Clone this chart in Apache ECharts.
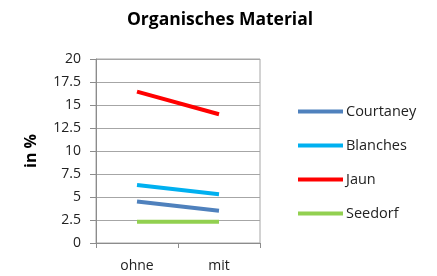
<!DOCTYPE html>
<html><head><meta charset="utf-8">
<script src="https://cdn.jsdelivr.net/npm/echarts@6/dist/echarts.min.js"></script>
<style>html,body{margin:0;padding:0;background:#fff}#c{width:437px;height:276px}</style>
</head><body><div id="c"></div>
<script>
const categories = ['ohne', 'mit'];
const seriesNames = ['Courtaney', 'Blanches', 'Jaun', 'Seedorf'];
const courtaney = [4.5, 3.5];
const blanches = [6.3, 5.3];
const jaun = [16.45, 14.0];
const seedorf = [2.3, 2.3];
const yTicks = ['0', '2.5', '5', '7.5', '10', '12.5', '15', '17.5', '20'];
const colors = ['#4F81BD', '#00B0F0', '#FF0000', '#92D050'];
const values = [courtaney, blanches, jaun, seedorf];

const chart = echarts.init(document.getElementById('c'), null, {renderer: 'canvas'});
const font = 'Open Sans, sans-serif';
chart.setOption({
  animation: false,
  title: {
    text: 'Organisches Material', left: 215, top: 6, textAlign: 'center',
    textStyle: {fontFamily: font, fontWeight: 'bold', fontSize: 17.5, color: '#000'}
  },
  grid: {left: 96, right: 177, top: 59, bottom: 33, show: true, borderColor: '#A6A6A6', borderWidth: 1},
  legend: {
    orient: 'vertical', left: 293, top: 99, itemGap: 19, itemWidth: 45, itemHeight: 18,
    textStyle: {fontFamily: font, fontSize: 14.5, color: '#222', padding: [0, 0, 0, -2]},
    data: seriesNames.map((n, i) => ({name: n, icon: 'path://M0,0 L45,0 L45,4 L0,4 Z'}))
  },
  xAxis: {
    type: 'category', data: categories, boundaryGap: true,
    axisLine: {lineStyle: {color: '#8C8C8C'}},
    axisTick: {show: true, length: 5, lineStyle: {color: '#8C8C8C'}},
    axisLabel: {fontFamily: font, fontSize: 14, color: '#222', margin: 16}
  },
  yAxis: {
    type: 'value', min: 0, max: 20, interval: 2.5,
    name: 'in %', nameLocation: 'middle', nameGap: 57, nameRotate: 90,
    nameTextStyle: {fontFamily: font, fontWeight: 'bold', fontSize: 16, color: '#000'},
    axisLine: {show: true, lineStyle: {color: '#8C8C8C'}},
    axisTick: {show: true, length: 6, lineStyle: {color: '#8C8C8C'}},
    splitLine: {lineStyle: {color: '#A6A6A6'}},
    axisLabel: {fontFamily: font, fontSize: 14, color: '#222', margin: 15,
      formatter: v => yTicks[Math.round(v / 2.5)]}
  },
  series: seriesNames.map((n, i) => ({
    name: n, type: 'line', data: values[i], symbol: 'none',
    lineStyle: {width: 4, color: colors[i]}, itemStyle: {color: colors[i]}
  }))
});
</script></body></html>
